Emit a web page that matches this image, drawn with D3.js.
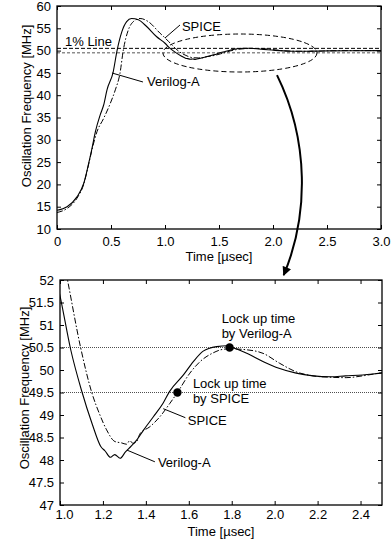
<!DOCTYPE html>
<html><head><meta charset="utf-8">
<script src="https://cdn.jsdelivr.net/npm/d3@7"></script>
<style>
html,body{margin:0;padding:0;background:#fff;}
svg{display:block;font-family:"Liberation Sans",Arial,sans-serif;}
</style></head>
<body>
<svg id="c" width="391" height="541"></svg>
<script>
// ---- data (time in µsec, frequency in MHz) ----
const verilogATime = [0,0.093,0.185,0.247,0.293,0.324,0.355,0.40,0.432,0.463,0.52,0.556,0.60,0.645,0.69,0.753,0.83,0.923,1.0,1.05,1.10,1.15,1.19,1.21,1.235,1.255,1.28,1.305,1.33,1.357,1.39,1.435,1.48,1.51,1.575,1.62,1.667,1.73,1.78,1.82,1.87,1.95,2.02,2.1,2.18,2.26,2.33,2.41,2.5,2.7,3.0];
const verilogAFreq = [14.2,15.0,17.2,20.2,24.7,28.1,31.8,35.6,37.8,41.2,45.2,50.0,54.2,56.5,57.2,56.9,55.4,53.1,51.65,50.45,49.55,48.8,48.3,48.2,48.06,48.12,48.04,48.18,48.3,48.44,48.67,48.96,49.26,49.52,49.89,50.18,50.42,50.52,50.54,50.47,50.37,50.18,50.04,49.93,49.87,49.85,49.87,49.89,49.93,49.98,50.0];
const spiceTime = [0,0.093,0.185,0.247,0.293,0.324,0.37,0.432,0.494,0.54,0.583,0.614,0.66,0.707,0.769,0.845,0.954,1.0,1.035,1.096,1.148,1.186,1.217,1.256,1.287,1.31,1.325,1.34,1.357,1.372,1.419,1.465,1.512,1.547,1.605,1.651,1.713,1.76,1.79,1.868,1.946,2.023,2.1,2.178,2.256,2.333,2.41,2.5,2.7,3.0];
const spiceFreq = [13.7,14.6,16.9,20.0,24.5,27.8,31.8,34.8,38.2,41.2,44.9,50.1,54.6,56.5,57.2,56.5,53.9,52.85,52.0,50.5,49.5,49.0,48.67,48.41,48.38,48.35,48.43,48.37,48.41,48.58,48.74,48.96,49.26,49.5,49.93,50.18,50.38,50.46,50.47,50.45,50.37,50.15,49.96,49.87,49.84,49.83,49.87,49.94,50.0,50.0];
const onePercentLines = [50.5, 49.5];
const lockPoints = [{t:1.79, f:50.5, who:"Verilog-A"}, {t:1.547, f:49.5, who:"SPICE"}];

const topXTicks = [0,0.5,1.0,1.5,2.0,2.5,3.0];
const topXLabels = ["0","0.5","1.0","1.5","2.0","2.5","3.0"];
const topYTicks = [10,15,20,25,30,35,40,45,50,55,60];
const topYLabels = ["10","15","20","25","30","35","40","45","50","55","60"];
const botXTicks = [1.0,1.2,1.4,1.6,1.8,2.0,2.2,2.4];
const botXLabels = ["1.0","1.2","1.4","1.6","1.8","2.0","2.2","2.4"];
const botYTicks = [47,47.5,48,48.5,49,49.5,50,50.5,51,51.5,52];
const botYLabels = ["47","47.5","48","48.5","49","49.5","50","50.5","51","51.5","52"];

const xLabel = "Time [µsec]";
const yLabel = "Oscillation Frequency [MHz]";

// ---- drawing ----
const svg = d3.select("#c");
const FS = 13;
const vaPts = verilogATime.map((t,i)=>[t, verilogAFreq[i]]);
const spPts = spiceTime.map((t,i)=>[t, spiceFreq[i]]);

const defs = svg.append("defs");
defs.append("marker").attr("id","arr").attr("viewBox","0 0 10 10")
  .attr("refX",9).attr("refY",5).attr("markerWidth",10).attr("markerHeight",9)
  .attr("markerUnits","userSpaceOnUse").attr("orient","auto")
  .append("path").attr("d","M0,0 L10,5 L0,10 z").attr("fill","#000");

function panel(id, xs, ys, xt, xl, yt, yl, opts){
  const [x0,x1] = xs.range(), [y0,y1] = ys.range(); // y0 bottom, y1 top
  defs.append("clipPath").attr("id","clip"+id).append("rect")
    .attr("x",x0).attr("y",y1).attr("width",x1-x0).attr("height",y0-y1);
  const g = svg.append("g");
  const ax = d3.axisBottom(xs).tickValues(xt).tickSize(-4).tickSizeOuter(0).tickPadding(opts.xpad)
    .tickFormat((d,i)=>xl[i]);
  const gx = g.append("g").attr("transform",`translate(0,${y0})`).call(ax);
  const ay = d3.axisLeft(ys).tickValues(yt).tickSize(-4).tickSizeOuter(0).tickPadding(6)
    .tickFormat((d,i)=>yl[i]);
  g.append("g").attr("transform",`translate(${x0},0)`).call(ay);
  g.append("g").attr("transform",`translate(0,${y1})`)
    .call(d3.axisTop(xs).tickValues(xt).tickSize(-4).tickSizeOuter(0).tickFormat(""));
  g.append("g").attr("transform",`translate(${x1},0)`)
    .call(d3.axisRight(ys).tickValues(yt).tickSize(-4).tickSizeOuter(0).tickFormat(""));
  g.selectAll(".domain").remove();
  g.selectAll(".tick line").attr("stroke","#000").attr("stroke-width",1);
  g.selectAll(".tick text").attr("font-size",FS).attr("fill","#000")
    .attr("font-family","Liberation Sans, Arial, sans-serif");
  if (opts.firstXShift) gx.select(".tick text").attr("dx",opts.firstXShift);
  return {g, clip:"url(#clip"+id+")", x0,x1,y0,y1};
}

function curves(p, xs, ys){
  const line = d3.line().x(d=>xs(d[0])).y(d=>ys(d[1])).curve(d3.curveMonotoneX);
  const cg = svg.append("g").attr("clip-path", p.clip);
  cg.append("path").datum(spPts).attr("d",line).attr("fill","none")
    .attr("stroke","#000").attr("stroke-width",1).attr("stroke-dasharray","6,2,1.5,2");
  cg.append("path").datum(vaPts).attr("d",line).attr("fill","none")
    .attr("stroke","#000").attr("stroke-width",1.1);
  return cg;
}

function frame(p){
  svg.append("rect").attr("x",p.x0).attr("y",p.y1).attr("width",p.x1-p.x0).attr("height",p.y0-p.y1)
    .attr("fill","none").attr("stroke","#000").attr("stroke-width",1.3);
}

function txt(x,y,s,anchor){
  return svg.append("text").attr("x",x).attr("y",y).attr("font-size",FS)
    .attr("text-anchor",anchor||"start").attr("fill","#000").text(s);
}
function seg(a,b){
  svg.append("line").attr("x1",a[0]).attr("y1",a[1]).attr("x2",b[0]).attr("y2",b[1])
    .attr("stroke","#000").attr("stroke-width",1);
}

// ===== top panel =====
const xT = d3.scaleLinear().domain([0,3]).range([57,381]);
const yT = d3.scaleLinear().domain([10,60]).range([229,6]);
const pT = panel("T", xT, yT, topXTicks, topXLabels, topYTicks, topYLabels, {xpad:8});
svg.append("line").attr("x1",xT(0)).attr("x2",xT(3)).attr("y1",yT(onePercentLines[0])).attr("y2",yT(onePercentLines[0]))
  .attr("stroke","#000").attr("stroke-width",1).attr("stroke-dasharray","4,2");
svg.append("line").attr("x1",xT(0)).attr("x2",xT(3)).attr("y1",yT(onePercentLines[1])).attr("y2",yT(onePercentLines[1]))
  .attr("stroke","#555").attr("stroke-width",1).attr("stroke-dasharray","3,2");
curves(pT, xT, yT);
frame(pT);
txt(xT(0.074), yT(51.03), "1% Line");
txt(xT(1.157), yT(54.4), "SPICE");
seg([xT(1.139), yT(55.74)], [xT(1.0), yT(52.83)]);
txt(xT(0.833), yT(42.06), "Verilog-A");
seg([xT(0.509), yT(44.98)], [xT(0.796), yT(42.96)]);
svg.append("ellipse").attr("cx",xT(1.694)).attr("cy",yT(49.46))
  .attr("rx",xT(0.713)-xT(0)).attr("ry",yT(45.2)-yT(49.46))
  .attr("fill","none").attr("stroke","#000").attr("stroke-width",1).attr("stroke-dasharray","5,3");
txt(xT(1.5), 261, xLabel, "middle");
svg.append("text").attr("transform",`translate(31,${yT(37.6)}) rotate(-90)`)
  .attr("font-size",FS).attr("text-anchor","middle").text(yLabel);

// ===== bottom panel =====
const xB = d3.scaleLinear().domain([1,2.5]).range([60,382]);
const yB = d3.scaleLinear().domain([47,52]).range([505,280]);
const pB = panel("B", xB, yB, botXTicks, botXLabels, botYTicks, botYLabels, {xpad:5, firstXShift:4});
onePercentLines.forEach(v=>{
  svg.append("line").attr("x1",xB(1)).attr("x2",xB(2.5)).attr("y1",yB(v)).attr("y2",yB(v))
    .attr("stroke","#222").attr("stroke-width",0.8).attr("stroke-dasharray","1,1");
});
curves(pB, xB, yB);
frame(pB);
svg.selectAll(".lock").data(lockPoints).enter().append("circle")
  .attr("cx",d=>xB(d.t)).attr("cy",d=>yB(d.f)).attr("r",4.2).attr("fill","#000");
txt(xB(1.753), yB(51.04), "Lock up time");
txt(xB(1.753), yB(51.04)+14.5, "by Verilog-A");
txt(xB(1.619), yB(49.6), "Lock up time");
txt(xB(1.619), yB(49.6)+14.5, "by SPICE");
txt(xB(1.595), yB(48.78), "SPICE");
seg([xB(1.481), yB(49.14)], [xB(1.584), yB(48.94)]);
txt(xB(1.456), yB(47.84), "Verilog-A");
seg([xB(1.312), yB(48.22)], [xB(1.442), yB(47.96)]);
txt(xB(1.75), 536, xLabel, "middle");
svg.append("text").attr("transform",`translate(28.5,${yB(49.6)}) rotate(-90)`)
  .attr("font-size",FS).attr("text-anchor","middle").text(yLabel);

// ===== connecting arrow =====
const a0 = [xT(2.037), yT(44.5)], a1 = [xB(2.042), yB(52.11)];
svg.append("path")
  .attr("d",`M${a0[0]},${a0[1]} C${a0[0]+32},${a0[1]+65} ${a0[0]+32},${a1[1]-60} ${a1[0]},${a1[1]}`)
  .attr("fill","none").attr("stroke","#000").attr("stroke-width",2).attr("marker-end","url(#arr)");
</script>
</body></html>
